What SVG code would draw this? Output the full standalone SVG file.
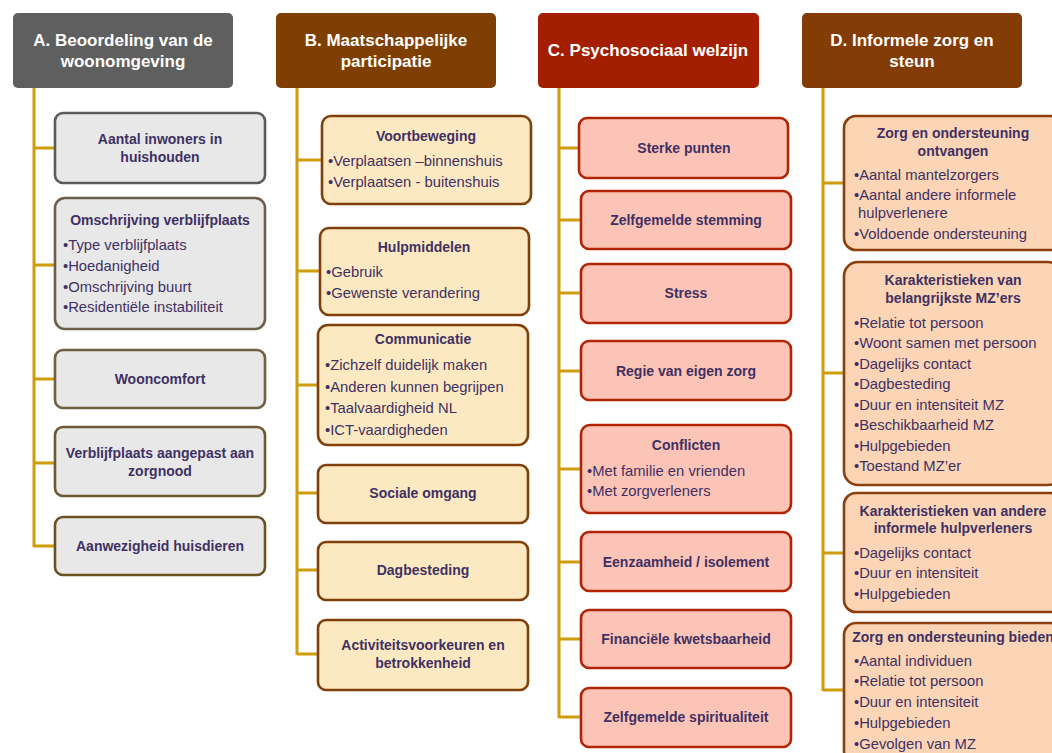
<svg xmlns="http://www.w3.org/2000/svg" width="1052" height="753" viewBox="0 0 1052 753">
  <style>
    .hdr { stroke: none; }
    .htxt { font-family: "Liberation Sans", Arial, sans-serif; font-weight: bold; font-size: 17px; fill: #ffffff; text-anchor: middle; }
    .box { stroke-width: 2.6; }
    .boxA { fill: #e8e8e8; }
    .boxB { fill: #fde9c1; stroke: #80400a; }
    .boxC { fill: #fcc4b6; stroke: #b02505; }
    .boxD { fill: #fbd5b6; stroke: #8a3f0c; }
    .t { font-family: "Liberation Sans", Arial, sans-serif; font-weight: bold; font-size: 14px; fill: #3f3163; text-anchor: middle; }
    .i { font-family: "Liberation Sans", Arial, sans-serif; font-size: 14.8px; fill: #3f3163; }
    .conn { fill: none; stroke: #cf9c0b; stroke-width: 3; }
  </style>

  <!-- tree connectors -->
  <g id="connectors" class="conn">
    <path d="M34,88 V547 M34,148 H55 M34,265 H55 M34,379 H55 M34,463 H55 M34,546 H55"/>
    <path d="M297,88 V655 M297,160 H322 M297,271 H320 M297,385 H318 M297,493 H318 M297,570 H318 M297,654 H318"/>
    <path d="M559,88 V718 M559,148 H579 M559,220 H581 M559,293 H581 M559,371 H581 M559,469 H581 M559,562 H581 M559,639 H581 M559,717 H581"/>
    <path d="M823,88 V691 M823,183 H844 M823,373 H844 M823,553 H844 M823,690 H844"/>
  </g>

  <!-- column headers -->
  <g id="hdrA">
    <rect class="hdr" x="13" y="13" width="220" height="75" rx="5" fill="#5f5f5f"/>
    <text class="htxt" x="123" y="46">A. Beoordeling van de</text>
    <text class="htxt" x="123" y="67">woonomgeving</text>
  </g>
  <g id="hdrB">
    <rect class="hdr" x="276" y="13" width="220" height="75" rx="5" fill="#7f3f03"/>
    <text class="htxt" x="386" y="46">B. Maatschappelijke</text>
    <text class="htxt" x="386" y="67">participatie</text>
  </g>
  <g id="hdrC">
    <rect class="hdr" x="538" y="13" width="221" height="75" rx="5" fill="#a41f01"/>
    <text class="htxt" x="648" y="56">C. Psychosociaal welzijn</text>
  </g>
  <g id="hdrD">
    <rect class="hdr" x="802" y="13" width="220" height="75" rx="5" fill="#833c05"/>
    <text class="htxt" x="912" y="46">D. Informele zorg en</text>
    <text class="htxt" x="912" y="67">steun</text>
  </g>

  <!-- column A -->
  <g id="a1">
    <rect class="box boxA" x="55" y="113" width="210" height="70" rx="8" stroke="#5b5b5b"/>
    <text class="t" x="160" y="144">Aantal inwoners in</text>
    <text class="t" x="160" y="162">huishouden</text>
  </g>
  <g id="a2">
    <rect class="box boxA" x="55" y="198" width="210" height="131" rx="10" stroke="#6b5f4a"/>
    <text class="t" x="160" y="225">Omschrijving verblijfplaats</text>
    <text class="i" x="63" y="250">•Type verblijfplaats</text>
    <text class="i" x="63" y="271">•Hoedanigheid</text>
    <text class="i" x="63" y="292">•Omschrijving buurt</text>
    <text class="i" x="63" y="312">•Residentiële instabiliteit</text>
  </g>
  <g id="a3">
    <rect class="box boxA" x="55" y="350" width="210" height="58" rx="8" stroke="#6e6040"/>
    <text class="t" x="160" y="384">Wooncomfort</text>
  </g>
  <g id="a4">
    <rect class="box boxA" x="55" y="427" width="210" height="69" rx="8" stroke="#6d5a33"/>
    <text class="t" x="160" y="458">Verblijfplaats aangepast aan</text>
    <text class="t" x="160" y="476">zorgnood</text>
  </g>
  <g id="a5">
    <rect class="box boxA" x="55" y="517" width="210" height="58" rx="8" stroke="#6b5223"/>
    <text class="t" x="160" y="551">Aanwezigheid huisdieren</text>
  </g>

  <!-- column B -->
  <g id="b1">
    <rect class="box boxB" x="322" y="116" width="209" height="88" rx="9"/>
    <text class="t" x="426" y="141">Voortbeweging</text>
    <text class="i" x="328" y="166">•Verplaatsen –binnenshuis</text>
    <text class="i" x="328" y="187">•Verplaatsen - buitenshuis</text>
  </g>
  <g id="b2">
    <rect class="box boxB" x="320" y="228" width="209" height="87" rx="9"/>
    <text class="t" x="424" y="252">Hulpmiddelen</text>
    <text class="i" x="326" y="277">•Gebruik</text>
    <text class="i" x="326" y="298">•Gewenste verandering</text>
  </g>
  <g id="b3">
    <rect class="box boxB" x="318" y="325" width="210" height="120" rx="10"/>
    <text class="t" x="423" y="344">Communicatie</text>
    <text class="i" x="325" y="370">•Zichzelf duidelijk maken</text>
    <text class="i" x="325" y="391.5">•Anderen kunnen begrijpen</text>
    <text class="i" x="325" y="413">•Taalvaardigheid NL</text>
    <text class="i" x="325" y="434.5">•ICT-vaardigheden</text>
  </g>
  <g id="b4">
    <rect class="box boxB" x="318" y="465" width="210" height="58" rx="8"/>
    <text class="t" x="423" y="498">Sociale omgang</text>
  </g>
  <g id="b5">
    <rect class="box boxB" x="318" y="542" width="210" height="58" rx="8"/>
    <text class="t" x="423" y="575">Dagbesteding</text>
  </g>
  <g id="b6">
    <rect class="box boxB" x="318" y="620" width="210" height="70" rx="8"/>
    <text class="t" x="423" y="650">Activiteitsvoorkeuren en</text>
    <text class="t" x="423" y="668">betrokkenheid</text>
  </g>

  <!-- column C -->
  <g id="c1">
    <rect class="box boxC" x="579" y="118" width="209" height="60" rx="8"/>
    <text class="t" x="684" y="153">Sterke punten</text>
  </g>
  <g id="c2">
    <rect class="box boxC" x="581" y="191" width="210" height="58" rx="8"/>
    <text class="t" x="686" y="225">Zelfgemelde stemming</text>
  </g>
  <g id="c3">
    <rect class="box boxC" x="581" y="264" width="210" height="59" rx="8"/>
    <text class="t" x="686" y="298">Stress</text>
  </g>
  <g id="c4">
    <rect class="box boxC" x="581" y="341" width="210" height="59" rx="8"/>
    <text class="t" x="686" y="376">Regie van eigen zorg</text>
  </g>
  <g id="c5">
    <rect class="box boxC" x="581" y="425" width="210" height="88" rx="9"/>
    <text class="t" x="686" y="450">Conflicten</text>
    <text class="i" x="587" y="475.5">•Met familie en vrienden</text>
    <text class="i" x="587" y="496">•Met zorgverleners</text>
  </g>
  <g id="c6">
    <rect class="box boxC" x="581" y="532" width="210" height="59" rx="8"/>
    <text class="t" x="686" y="567">Eenzaamheid / isolement</text>
  </g>
  <g id="c7">
    <rect class="box boxC" x="581" y="610" width="210" height="58" rx="8"/>
    <text class="t" x="686" y="644">Financiële kwetsbaarheid</text>
  </g>
  <g id="c8">
    <rect class="box boxC" x="581" y="688" width="210" height="59" rx="8"/>
    <text class="t" x="686" y="722">Zelfgemelde spiritualiteit</text>
  </g>

  <!-- column D -->
  <g id="d1">
    <rect class="box boxD" x="844" y="116" width="218" height="134" rx="12"/>
    <text class="t" x="953" y="138">Zorg en ondersteuning</text>
    <text class="t" x="953" y="156">ontvangen</text>
    <text class="i" x="854" y="180">•Aantal mantelzorgers</text>
    <text class="i" x="854" y="200">•Aantal andere informele</text>
    <text class="i" x="858" y="218">hulpverlenere</text>
    <text class="i" x="854" y="239">•Voldoende ondersteuning</text>
  </g>
  <g id="d2">
    <rect class="box boxD" x="844" y="262" width="218" height="223" rx="14"/>
    <text class="t" x="953" y="285">Karakteristieken van</text>
    <text class="t" x="953" y="303">belangrijkste MZ’ers</text>
    <text class="i" x="854" y="328">•Relatie tot persoon</text>
    <text class="i" x="854" y="348">•Woont samen met persoon</text>
    <text class="i" x="854" y="369">•Dagelijks contact</text>
    <text class="i" x="854" y="389">•Dagbesteding</text>
    <text class="i" x="854" y="410">•Duur en intensiteit MZ</text>
    <text class="i" x="854" y="430">•Beschikbaarheid MZ</text>
    <text class="i" x="854" y="451">•Hulpgebieden</text>
    <text class="i" x="854" y="471">•Toestand MZ’er</text>
  </g>
  <g id="d3">
    <rect class="box boxD" x="844" y="493" width="218" height="119" rx="12"/>
    <text class="t" x="953" y="516">Karakteristieken van andere</text>
    <text class="t" x="953" y="533">informele hulpverleners</text>
    <text class="i" x="854" y="558">•Dagelijks contact</text>
    <text class="i" x="854" y="578">•Duur en intensiteit</text>
    <text class="i" x="854" y="599">•Hulpgebieden</text>
  </g>
  <g id="d4">
    <rect class="box boxD" x="844" y="623" width="218" height="140" rx="12"/>
    <text class="t" x="953" y="642">Zorg en ondersteuning bieden</text>
    <text class="i" x="854" y="666">•Aantal individuen</text>
    <text class="i" x="854" y="686">•Relatie tot persoon</text>
    <text class="i" x="854" y="707">•Duur en intensiteit</text>
    <text class="i" x="854" y="728">•Hulpgebieden</text>
    <text class="i" x="854" y="749">•Gevolgen van MZ</text>
  </g>
</svg>
